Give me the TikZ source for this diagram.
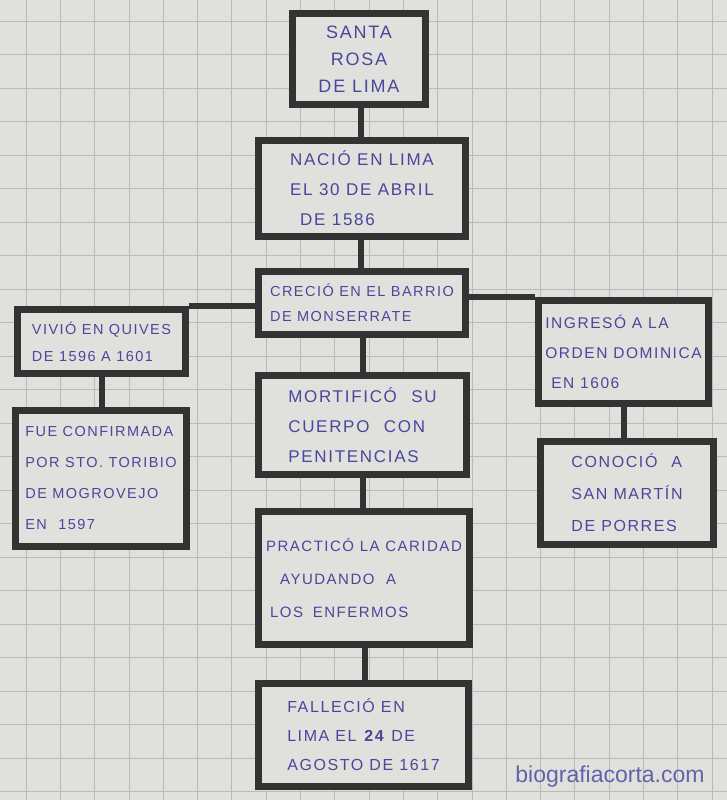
\documentclass[tikz,border=0pt]{standalone}
\usepackage{fontspec}
\setmainfont[LetterSpace=10]{Liberation Sans}
\newfontfamily\wmfont{Liberation Sans}
\definecolor{paper}{HTML}{E0E1DD}
\definecolor{gridc}{HTML}{B4BDB9}
\definecolor{ink}{HTML}{4A469C}
\definecolor{marker}{HTML}{333333}
\tikzset{
  box/.style={draw=marker, line width=7pt, fill=paper, text=ink, align=left, inner sep=0pt, font=\fontsize{17}{30}\selectfont},
  link/.style={draw=marker, line width=6pt}
}
\begin{document}
\begin{tikzpicture}[x=1pt,y=-1pt]
\fill[paper] (0,0) rectangle (727,800);
\useasboundingbox (0,0) rectangle (727,800);
% graph paper grid
\foreach \i in {0,...,21} {\draw[gridc, line width=0.8pt] ({26+\i*34.3},0) -- ({26+\i*34.3},800);}
\foreach \j in {0,...,23} {\draw[gridc, line width=0.8pt] (0,{21+\j*33.5}) -- (727,{21+\j*33.5});}
% connectors (drawn first, boxes cover their ends)
\coordinate (c1) at (361,0);
\coordinate (c2) at (363,0);
\coordinate (c3) at (365,0);
% boxes
\node[box, align=center, minimum width=133pt, minimum height=91pt, font=\fontsize{18}{27}\selectfont] (sr) at (359,59) {SANTA\\ROSA\\DE LIMA};
\node[box, minimum width=207pt, minimum height=96pt] (nacio) at (362,188.5) {NACIÓ EN LIMA\\EL 30 DE ABRIL\\\hspace{10pt}DE 1586};
\node[box, minimum width=207pt, minimum height=63pt, font=\fontsize{14.5}{25}\selectfont] (crecio) at (362,303) {CRECIÓ EN EL BARRIO\\DE MONSERRATE};
\node[box, minimum width=168pt, minimum height=64pt, font=\fontsize{14.5}{27}\selectfont] (vivio) at (101.5,341.5) {VIVIÓ EN QUIVES\\DE 1596 A 1601};
\node[box, minimum width=171pt, minimum height=136pt, font=\fontsize{14.5}{31}\selectfont] (fue) at (101,478.5) {FUE CONFIRMADA\\POR STO. TORIBIO\\DE MOGROVEJO\\EN \hspace{6pt}1597};
\node[box, minimum width=170pt, minimum height=103pt, font=\fontsize{15.5}{30}\selectfont] (ingreso) at (623.5,352) {INGRESÓ A LA\\ORDEN DOMINICA\\\hspace{6pt}EN 1606};
\node[box, minimum width=173pt, minimum height=103pt, font=\fontsize{16}{32}\selectfont] (conocio) at (627,493) {CONOCIÓ \hspace{8pt}A\\SAN MARTÍN\\DE PORRES};
\node[box, minimum width=208pt, minimum height=99pt] (mort) at (362.5,425) {MORTIFICÓ \hspace{8pt}SU\\CUERPO \hspace{8pt}CON\\PENITENCIAS};
\node[box, minimum width=211pt, minimum height=133pt, font=\fontsize{15}{33}\selectfont] (pract) at (364,578) {PRACTICÓ LA CARIDAD\\\hspace{14pt}AYUDANDO \hspace{6pt}A\\\hspace{4pt}LOS \hspace{4pt}ENFERMOS};
\node[box, minimum width=210pt, minimum height=103pt, font=\fontsize{16}{29}\selectfont] (fall) at (363.5,735) {FALLECIÓ EN\\LIMA EL \textbf{24} DE\\AGOSTO DE 1617};
% connectors
\draw[link] (c1 |- sr.south) -- (c1 |- nacio.north);
\draw[link] (c1 |- nacio.south) -- (c1 |- crecio.north);
\draw[link] (c2 |- crecio.south) -- (c2 |- mort.north);
\draw[link] (c2 |- mort.south) -- (c2 |- pract.north);
\draw[link] (c3 |- pract.south) -- (c3 |- fall.north);
\draw[link] (vivio.south) -- (vivio.south |- fue.north);
\draw[link] (ingreso.south) -- (ingreso.south |- conocio.north);
\draw[link] (vivio.north east) -- (vivio.north east -| crecio.west);
\draw[link] (ingreso.north west) -- (ingreso.north west -| crecio.east);
% watermark
\node[text=ink!85, font=\wmfont\fontsize{23}{23}\selectfont, anchor=base] (wm) at (610,782) {biografiacorta.com};
\end{tikzpicture}
\end{document}
